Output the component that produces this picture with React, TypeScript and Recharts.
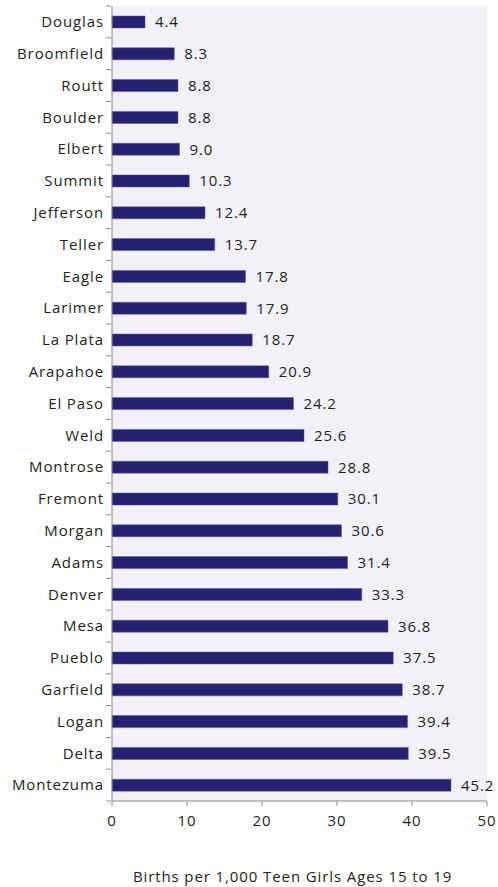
import React from "react";
import { BarChart, Bar, XAxis, YAxis, CartesianGrid, LabelList } from "recharts";

const counties = ["Douglas","Broomfield","Routt","Boulder","Elbert","Summit","Jefferson","Teller","Eagle","Larimer","La Plata","Arapahoe","El Paso","Weld","Montrose","Fremont","Morgan","Adams","Denver","Mesa","Pueblo","Garfield","Logan","Delta","Montezuma"];
const rates = [4.4,8.3,8.8,8.8,9.0,10.3,12.4,13.7,17.8,17.9,18.7,20.9,24.2,25.6,28.8,30.1,30.6,31.4,33.3,36.8,37.5,38.7,39.4,39.5,45.2];
const xTicks = [0,10,20,30,40,50];
const axisTitle = "Births per 1,000 Teen Girls Ages 15 to 19";

const data = counties.map((c, i) => ({ county: c, rate: rates[i] }));

const FONT = "'Open Sans', sans-serif";
const TEXT = "#231f20";
const LS = 0.9;

const YTick = (props: any) => {
  const { x, y, payload, index } = props;
  const half = 795 / 25 / 2;
  return (
    <g>
      <line x1={x + 3} x2={x + 8} y1={y - half} y2={y - half} stroke="#8a8a8a" />
      {index === counties.length - 1 && (
        <line x1={x + 3} x2={x + 8} y1={y + half} y2={y + half} stroke="#8a8a8a" />
      )}
      <text x={x + 1} y={y} dy="0.35em" textAnchor="end" fill={TEXT} fontSize={15} fontFamily={FONT} letterSpacing={LS}>
        {payload.value}
      </text>
    </g>
  );
};

export default function App() {
  return (
    <div style={{ position: "absolute", left: 0, top: 0, background: "#fff" }}>
      <BarChart
        width={498}
        height={887}
        data={data}
        layout="vertical"
        margin={{ top: 6, right: 11, bottom: 0, left: 0 }}
        barCategoryGap={0}
      >
        <CartesianGrid horizontal={false} vertical={false} fill="#f2f1f7" />
        <XAxis
          type="number"
          domain={[0, 50]}
          ticks={xTicks}
          interval={0}
          height={86}
          tickSize={5}
          tickMargin={9}
          stroke="#8a8a8a"
          tick={{ fill: TEXT, fontSize: 15, fontFamily: FONT, letterSpacing: LS }}
          label={{ value: axisTitle, position: "insideBottom", offset: 5, dx: -7, fill: TEXT, fontSize: 15, fontFamily: FONT, letterSpacing: LS }}
        />
        <YAxis
          type="category"
          dataKey="county"
          width={112}
          tickLine={false}
          tickSize={0}
          tickMargin={9}
          stroke="#8a8a8a"
          interval={0}
          tick={<YTick />}
        />
        <Bar dataKey="rate" fill="#25206f" stroke="#5a57a0" strokeWidth={0.5} barSize={12} isAnimationActive={false}>
          <LabelList
            dataKey="rate"
            position="right"
            offset={10}
            formatter={(v: any) => Number(v).toFixed(1)}
            style={{ fill: TEXT, fontSize: 15, fontFamily: FONT, letterSpacing: LS }}
          />
        </Bar>
      </BarChart>
    </div>
  );
}
